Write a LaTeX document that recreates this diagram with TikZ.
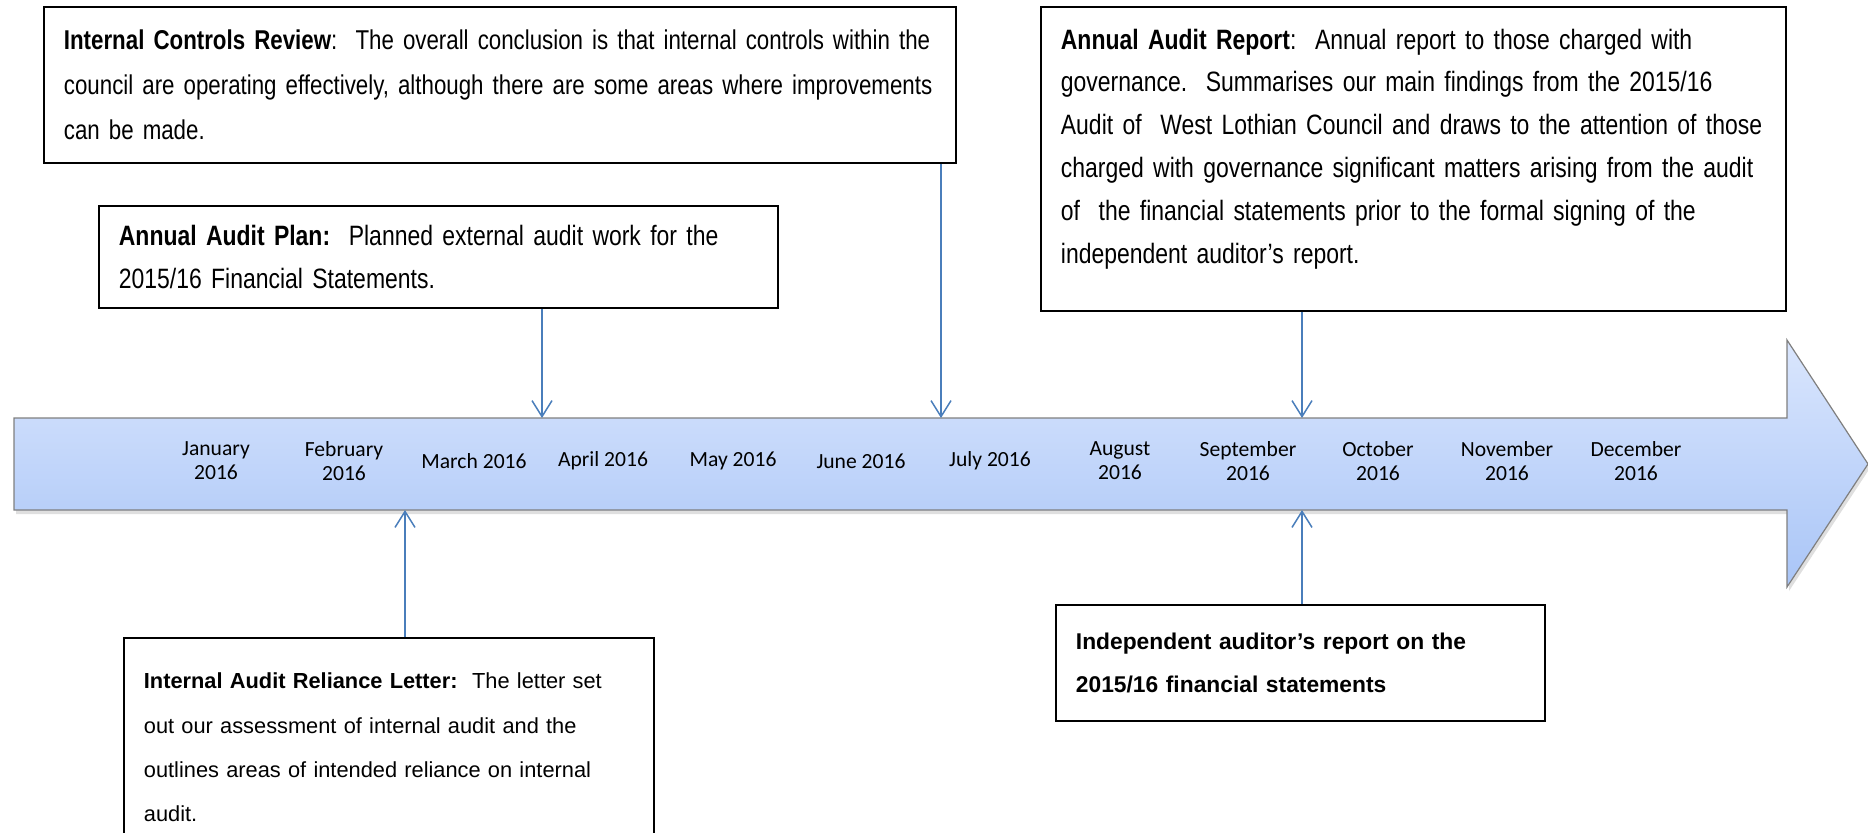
\documentclass[tikz,border=0pt]{standalone}
\usepackage{fontspec}
\setmainfont{Liberation Sans}
\newfontfamily\narrowfont[FakeStretch=0.82]{Liberation Sans}
\newfontfamily\calfont{Carlito}
\usetikzlibrary{arrows.meta,shadows}
\definecolor{connblue}{HTML}{4A7EBB}
\definecolor{tltop}{HTML}{DAE6FD}
\definecolor{tlbot}{HTML}{A9C5F7}
\definecolor{tlborder}{HTML}{7F7F7F}
\newcommand\tline[1]{\mbox{#1}}
\begin{document}
\begin{tikzpicture}[x=0.5pt,y=-0.5pt,
  infobox/.style={draw=black, line width=0.9pt, fill=white, anchor=north west, inner xsep=10pt, inner ysep=0pt, align=left},
  icrtext/.style={font=\narrowfont\fontsize{13.6}{22.6}\selectfont},
  narrowtext/.style={font=\narrowfont\fontsize{14}{21.4}\selectfont},
  regtext/.style={font=\fontsize{10.9}{22.2}\selectfont},
  boldtext/.style={font=\bfseries\fontsize{11.4}{21.6}\selectfont},
  conn/.style={draw=connblue, line width=0.75pt, -{Straight Barb[length=8pt,width=10pt]}},
  month/.style={font=\calfont\fontsize{10.8}{12}\selectfont, align=center, inner sep=0pt}]
\useasboundingbox (0,0) rectangle (1868,832);

% timeline arrow
\path[draw=tlborder, line width=0.6pt, top color=tltop, bottom color=tlbot,
  drop shadow={opacity=0.25, shadow xshift=1pt, shadow yshift=-2pt}]
  (14,418) -- (1787,418) -- (1787,340) -- (1868,464) -- (1787,587) -- (1787,510) -- (14,510) -- cycle;

% months
\node[month] (m1)  at (216,461)  {January\\2016};
\node[month] (m2)  at (344,461)  {February\\2016};
\node[month] (m3)  at (474,461)  {March 2016};
\node[month] (m4)  at (603,461)  {April 2016};
\node[month] (m5)  at (733,461)  {May 2016};
\node[month] (m6)  at (861,461)  {June 2016};
\node[month] (m7)  at (990,461)  {July 2016};
\node[month] (m8)  at (1120,461) {August\\2016};
\node[month] (m9)  at (1248,461) {September\\2016};
\node[month] (m10) at (1378,461) {October\\2016};
\node[month] (m11) at (1507,461) {November\\2016};
\node[month] (m12) at (1636,461) {December\\2016};

% boxes
\node[infobox, icrtext, text width=436pt, minimum height=78pt] (icr) at (43,6)
  {\tline{\textbf{Internal Controls Review}:\ \ The overall conclusion is that internal controls within the}\\
   \tline{council are operating effectively, although there are some areas where improvements}\\
   \tline{can be made.}};
\node[infobox, narrowtext, text width=319.5pt, minimum height=51pt] (aap) at (98,205)
  {\tline{\textbf{Annual Audit Plan:}\ \ Planned external audit work for the}\\
   \tline{2015/16 Financial Statements.}};
\node[infobox, narrowtext, text width=352.5pt, minimum height=152pt] (aar) at (1040,6)
  {\tline{\textbf{Annual Audit Report}:\ \ Annual report to those charged with}\\
   \tline{governance.\ \ Summarises our main findings from the 2015/16}\\
   \tline{Audit of\ \ West Lothian Council and draws to the attention of those}\\
   \tline{charged with governance significant matters arising from the audit}\\
   \tline{of\ \ the financial statements prior to the formal signing of the}\\
   \tline{independent auditor’s report.}\\[-8.4pt]\mbox{}};
\node[infobox, regtext, text width=245pt, minimum height=109.5pt] (iarl) at (123,637)
  {\tline{\textbf{Internal Audit Reliance Letter:}\ \ The letter set}\\
   \tline{out our assessment of internal audit and the}\\
   \tline{outlines areas of intended reliance on internal}\\
   \tline{audit.}};
\node[infobox, boldtext, text width=224.5pt, minimum height=58pt] (iar) at (1055,604)
  {\tline{Independent auditor’s report on the}\\
   \tline{2015/16 financial statements}};

% connector end points on the timeline
\coordinate (pAAP) at (542,418);
\coordinate (pICR) at (941,418);
\coordinate (pAAR) at (1302,418);
\coordinate (pIARL) at (405,510);
\coordinate (pIAR) at (1302,510);

\draw[conn] (aap.south -| pAAP) -- (pAAP);
\draw[conn] (icr.south -| pICR) -- (pICR);
\draw[conn] (aar.south -| pAAR) -- (pAAR);
\draw[conn] (iarl.north -| pIARL) -- (pIARL);
\draw[conn] (iar.north -| pIAR) -- (pIAR);
\end{tikzpicture}
\end{document}
